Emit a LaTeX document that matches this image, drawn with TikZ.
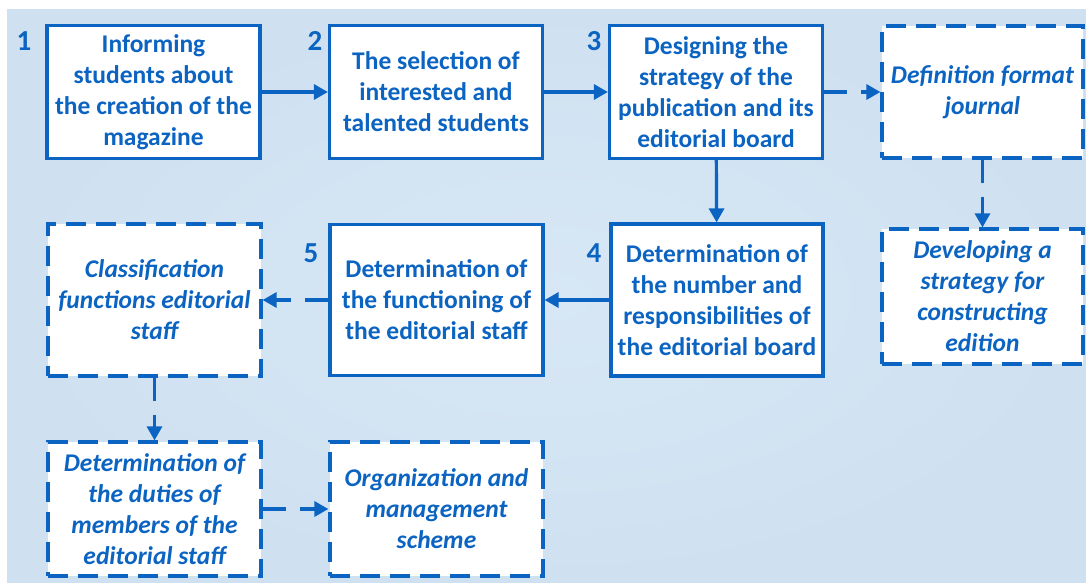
\documentclass[tikz,border=0pt]{standalone}
\usepackage{fontspec}
\setmainfont{Carlito}
\usetikzlibrary{arrows.meta}
\definecolor{edblue}{RGB}{12,100,194}
\definecolor{bgblue}{RGB}{207,225,241}
\definecolor{bglight}{RGB}{215,231,245}
\tikzset{
  stage/.style={draw=edblue, line width=3.2pt, fill=white, text=edblue,
    font=\fontsize{25.5}{31}\selectfont\bfseries, align=center, inner sep=0pt,
    minimum width=213pt, minimum height=133pt},
  optional/.style={stage, dash pattern=on 20pt off 10pt,
    font=\fontsize{25.5}{31}\selectfont\bfseries\itshape},
  flow/.style={draw=edblue, line width=3.2pt, -{Triangle[length=14pt,width=15pt]}},
  dflow/.style={flow, dash pattern=on 23pt off 14pt},
  stepno/.style={text=edblue, font=\fontsize{29}{32}\selectfont\bfseries, inner sep=0pt}
}
\begin{document}
\begin{tikzpicture}[x=1pt, y=-1pt]
			%%%%% BACKGROUND %%%%%
			\useasboundingbox (0, 0) rectangle (1086, 583);
			\fill[white] (0, 0) rectangle (1086, 583);
			\shade[inner color=bglight, outer color=bgblue] (7, 10) rectangle (1086, 583);
			
			%%%%% TOP ROW %%%%%
			\node[stage] (inform) at (153.5, 92) {Informing\\students about\\the creation of the\\magazine};
			\node[stage] (select) at (436, 92) {The selection of\\interested and\\talented students};
			\node[stage] (design) at (716, 92) {Designing the\\strategy of the\\publication and its\\editorial board};
			\node[optional, minimum width=201pt, minimum height=132pt] (format) at (982.5, 92) {Definition format\\journal};
			
			%%%%% MIDDLE ROW %%%%%
			\node[stage, minimum width=212pt, minimum height=152pt] (number) at (717, 300) {Determination of\\the number and\\responsibilities of\\the editorial board};
			\node[optional, minimum width=201pt, minimum height=135pt] (develop) at (982.5, 296.5) {Developing a\\strategy for\\constructing\\edition};
			\node[stage, minimum height=151pt] (function) at (436.5, 300) {Determination of\\the functioning of\\the editorial staff};
			\node[optional, minimum height=152pt] (classify) at (154.5, 300) {Classification\\functions editorial\\staff};
			
			%%%%% BOTTOM ROW %%%%%
			\node[optional, minimum height=134pt] (duties) at (154.5, 509) {Determination of\\the duties of\\members of the\\editorial staff};
			\node[optional, minimum height=134pt] (scheme) at (436.5, 509) {Organization and\\management\\scheme};
			
			%%%%% NUMBERS %%%%%
			\node[stepno] (n1) at (24, 41) {1};
			\node[stepno] (n2) at (315, 41) {2};
			\node[stepno] (n3) at (594, 41) {3};
			\node[stepno] (n4) at (594, 253) {4};
			\node[stepno] (n5) at (311, 253) {5};
			
			%%%%% ARROWS %%%%%
			\draw[flow] (inform) -- (select);
			\draw[flow] (select) -- (design);
			\draw[dflow] (design) -- (format);
			\draw[flow] (design) -- (number);
			\draw[dflow] (format) -- (develop);
			\draw[flow] (number) -- (function);
			\draw[dflow] (function) -- (classify);
			\draw[dflow] (classify) -- (duties);
			\draw[dflow] (duties) -- (scheme);
			
			%%%%% END %%%%%
\end{tikzpicture}
\end{document}
